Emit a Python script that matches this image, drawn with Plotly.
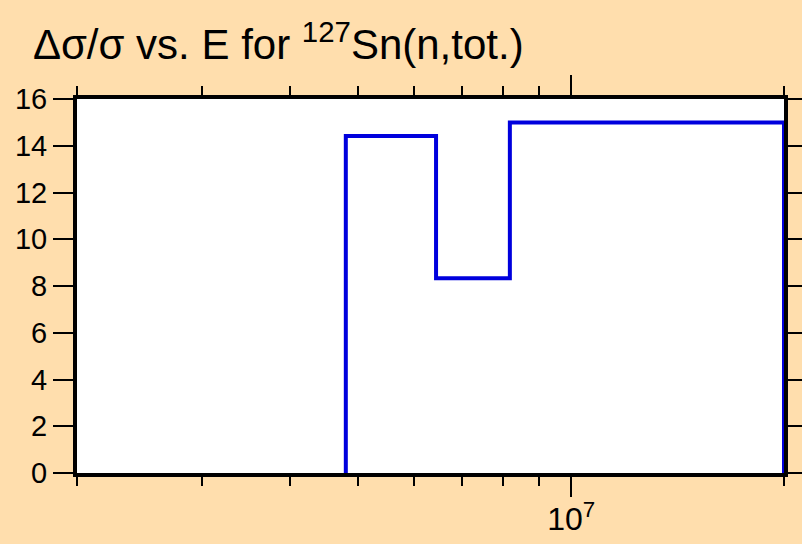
import plotly.graph_objects as go

# bin edges (eV) and relative uncertainty (%) per bin
edges = [4.8e6, 6.44e6, 8.19e6, 2.0e7]
values = [14.42, 8.33, 15.0]

y_ticks = [0, 2, 4, 6, 8, 10, 12, 14, 16]
x_minor = [2e6, 3e6, 4e6, 5e6, 6e6, 7e6, 8e6, 9e6, 2e7]
x_major = [1e7]
x_major_text = ["10<sup>7</sup>"]

# build the histogram outline, starting and ending at zero
xs = [edges[0]]
ys = [0]
for i, v in enumerate(values):
    xs += [edges[i], edges[i + 1]]
    ys += [v, v]
xs.append(edges[-1])
ys.append(0)

fig = go.Figure(go.Scatter(x=xs, y=ys, mode="lines",
                           line=dict(color="#0000dd", width=4),
                           hoverinfo="skip"))

font = dict(family="Liberation Sans, Arial, sans-serif", size=29, color="black")

fig.update_layout(
    width=802, height=544,
    paper_bgcolor="#ffdead", plot_bgcolor="white",
    margin=dict(l=77, r=18, t=99, b=71),
    showlegend=False,
    font=font,
    title=dict(text="Δσ/σ vs. E for <sup>127</sup>Sn(n,tot.)",
               x=0.041, xanchor="left", y=0.918, yanchor="middle",
               font=dict(size=42)),
)
fig.update_xaxes(
    type="log", range=[6.30103, 7.30103], automargin=False,
    tickvals=x_major, ticktext=x_major_text, tickfont=dict(size=32),
    ticklabelstandoff=-5,
    ticks="outside", ticklen=20, tickwidth=2, tickcolor="black",
    minor=dict(tickvals=x_minor, ticks="outside", ticklen=9, tickwidth=2, tickcolor="black"),
    showline=True, linewidth=4, linecolor="black", mirror="allticks",
    showgrid=False, zeroline=False,
)
fig.update_yaxes(
    range=[0, 16], tickvals=y_ticks, automargin=False,
    ticks="outside", ticklen=20, tickwidth=2, tickcolor="black",
    showline=True, linewidth=4, linecolor="black", mirror="allticks",
    showgrid=False, zeroline=False,
)

fig.write_html("out.html", config={"displayModeBar": False},
               post_script="document.body.style.margin='0';")
